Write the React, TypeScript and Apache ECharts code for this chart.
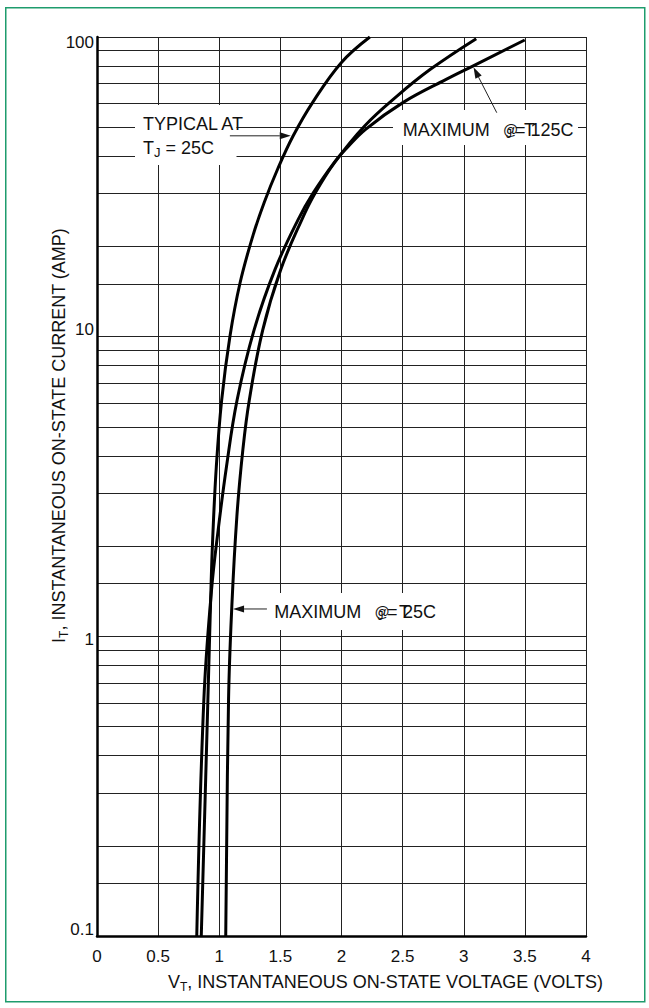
import React, { useEffect, useRef } from "react";
import * as echarts from "echarts";

// ---------- data ----------
const xTickLabels = ["0", "0.5", "1", "1.5", "2", "2.5", "3", "3.5", "4"];
const yTickLabels = ["0.1", "1", "10", "100"];
const yGridValues = [
  0.1, 0.15, 0.2, 0.3, 0.4, 0.5, 0.6, 0.7, 0.8, 0.9,
  1, 1.5, 2, 3, 4, 5, 6, 7, 8, 9,
  10, 15, 20, 30, 40, 50, 60, 70, 80, 90, 100,
];

// [V_T (volts), I_T (amps)]
const typical25 = [
  [0.853, 0.1], [0.907, 0.613], [0.932, 1.43], [0.946, 2.1], [0.976, 3.68],
  [1.02, 6.15], [1.087, 10], [1.17, 15.1], [1.275, 21.7], [1.367, 28],
  [1.477, 36.2], [1.605, 46.8], [1.763, 60.4], [1.998, 82.1], [2.232, 100],
];
const max25 = [
  [1.053, 0.1], [1.076, 0.613], [1.103, 1.26], [1.144, 2.51], [1.193, 4.19],
  [1.246, 6.15], [1.355, 10.5], [1.502, 16.7], [1.674, 24.5], [1.786, 30.2],
  [1.943, 38.1], [2.189, 50.5], [2.454, 63.5], [2.727, 78], [3.102, 98.7],
];
const max125 = [
  [0.816, 0.1], [0.874, 0.613], [0.937, 1.43], [0.988, 2.21], [1.059, 3.68],
  [1.146, 6.15], [1.284, 10.5], [1.455, 16.7], [1.643, 24.5], [1.769, 30.2],
  [1.94, 38.1], [2.034, 42.2], [2.197, 49.2], [2.502, 60.4], [2.856, 72.2],
  [3.074, 80], [3.499, 97.7],
];

// annotation arrows in data space: from -> tip
const arrowTypical = { from: [1.087, 46.8], to: [1.585, 46.8] };
const arrowMax25 = { from: [1.39, 1.234], to: [1.113, 1.234] };
const arrowMax125 = { from: [3.27, 55.9], to: [3.08, 79.2] };

const FONT = "'Liberation Sans', Arial, Helvetica, sans-serif";
const INK = "#111";

export default function App() {
  const ref = useRef<HTMLDivElement>(null);

  useEffect(() => {
    const chart = echarts.init(ref.current!, null, { renderer: "svg" });

    const curve = (name: string, data: number[][]) => ({
      name,
      type: "line",
      data,
      symbol: "none",
      showSymbol: false,
      smooth: 0.4,
      z: 20,
      silent: true,
      lineStyle: { color: "#000", width: 3 },
    });

    const yKey: Record<string, string> = { "100": "d", "10": "u", "1": "m", "0.1": "u2" };
    const lab = { fontSize: 17, fontFamily: FONT, color: INK };

    chart.setOption({
      animation: false,
      backgroundColor: "#fff",
      grid: { left: 97, right: 63, top: 37, bottom: 72 },
      xAxis: {
        type: "value",
        min: 0,
        max: 4,
        interval: 0.5,
        axisLine: { show: true, onZero: false, lineStyle: { color: "#000", width: 2.5 } },
        axisTick: { show: false },
        axisLabel: {
          ...lab,
          margin: 12,
          formatter: (v: number) => xTickLabels[Math.round(v * 2)] ?? String(v),
        },
        splitLine: { show: true, lineStyle: { color: "#222", width: 1 } },
      },
      yAxis: {
        type: "log",
        logBase: 10,
        min: 0.1,
        max: 100,
        axisLine: { show: true, lineStyle: { color: "#000", width: 2.5 } },
        axisTick: { show: false },
        minorTick: { show: false },
        splitLine: { show: false },
        minorSplitLine: { show: false },
        axisLabel: {
          ...lab,
          margin: 3,
          formatter: (v: number) => {
            const idx = Math.round(Math.log10(v)) + 1;
            const s = yTickLabels[idx] ?? String(v);
            return `{${yKey[s] || "m"}|${s}}`;
          },
          rich: {
            d: { ...lab, padding: [10, 0, 0, 0] },
            u: { ...lab, padding: [0, 0, 14, 0] },
            m: { ...lab, padding: [6, 0, 0, 0] },
            u2: { ...lab, padding: [0, 0, 13, 0] },
          },
        },
      },
      series: [
        {
          type: "line",
          data: [],
          z: 0,
          silent: true,
          markLine: {
            z: 0,
            silent: true,
            symbol: ["none", "none"],
            label: { show: false },
            emphasis: { disabled: true },
            lineStyle: { color: "#222", width: 1, type: "solid" },
            data: yGridValues.map((v) => ({ yAxis: v })),
          },
        },
        curve("Typical @ TJ = 25C", typical25),
        curve("Maximum @ TJ = 25C", max25),
        curve("Maximum @ TJ = 125C", max125),
      ],
    });

    const toPx = (p: number[]) => chart.convertToPixel({ gridIndex: 0 }, p) as number[];

    const arrow = (a0: { from: number[]; to: number[] }) => {
      const a = toPx(a0.from);
      const b = toPx(a0.to);
      const dx = b[0] - a[0];
      const dy = b[1] - a[1];
      const len = Math.hypot(dx, dy) || 1;
      const ux = dx / len;
      const uy = dy / len;
      const L = 11;
      const W = 3.5;
      const base = [b[0] - ux * L, b[1] - uy * L];
      const left = [base[0] - uy * W, base[1] + ux * W];
      const right = [base[0] + uy * W, base[1] - ux * W];
      return [
        {
          type: "line",
          z: 30,
          silent: true,
          shape: { x1: a[0], y1: a[1], x2: base[0], y2: base[1] },
          style: { stroke: "#222", lineWidth: 1 },
        },
        {
          type: "polygon",
          z: 30,
          silent: true,
          shape: { points: [b, left, right] },
          style: { fill: "#111" },
        },
      ];
    };

    const box = (x: number, y: number, w: number, h: number) => ({
      type: "rect",
      z: 10,
      silent: true,
      shape: { x, y, width: w, height: h },
      style: { fill: "#fff" },
    });

    const txt = (text: string, x: number, y: number, size = 18) => ({
      type: "text",
      z: 30,
      silent: true,
      x,
      y,
      style: { text, fontSize: size, fontFamily: FONT, fill: INK, align: "left", verticalAlign: "middle" },
    });

    const subRich = {
      a: { fontSize: 18, fontFamily: FONT, fill: INK, lineHeight: 22 },
      s: { fontSize: 12, fontFamily: FONT, fill: INK, lineHeight: 12, verticalAlign: "bottom" },
    };

    chart.setOption({
      graphic: {
        elements: [
          // white label backgrounds
          box(135, 105, 101.5, 60),
          box(393, 110, 185, 35),
          box(268, 593, 172, 37),
          // TYPICAL AT TJ = 25C
          txt("TYPICAL AT", 143, 124),
          {
            type: "text",
            z: 30,
            silent: true,
            x: 143,
            y: 148,
            style: {
              text: "{a|T}{s|J}{a| = 25C}",
              rich: { ...subRich, s: { ...subRich.s, fontSize: 13 } },
              align: "left",
              verticalAlign: "middle",
            },
          },
          // MAXIMUM @ TJ = 125C (overprinted as in the original)
          txt("MAXIMUM", 402.7, 129.5),
          txt("@", 503, 129.5, 15),
          txt("J", 506, 134, 12),
          txt("=", 515, 129.5),
          txt("T", 524, 129.5),
          txt("125C", 530.5, 129.5),
          // MAXIMUM @ TJ = 25C
          txt("MAXIMUM", 274.3, 611.5),
          txt("@", 374.5, 611.5, 15),
          txt("J", 377.5, 616, 12),
          txt("=", 387, 611.5),
          txt("T", 399, 611.5),
          txt("25C", 403, 611.5),
          // arrows
          ...arrow(arrowTypical),
          ...arrow(arrowMax25),
          ...arrow(arrowMax125),
          // axis titles
          {
            type: "text",
            z: 30,
            silent: true,
            x: 385.5,
            y: 982,
            style: {
              text: "{a|V}{s|T}{a|, INSTANTANEOUS ON-STATE VOLTAGE (VOLTS)}",
              rich: subRich,
              align: "center",
              verticalAlign: "middle",
            },
          },
          {
            type: "text",
            z: 30,
            silent: true,
            x: 58.5,
            y: 435.5,
            rotation: Math.PI / 2,
            style: {
              text: "{a|I}{s|T}{a|, INSTANTANEOUS ON-STATE CURRENT (AMP)}",
              rich: subRich,
              align: "center",
              verticalAlign: "middle",
            },
          },
          // green frame
          {
            type: "rect",
            z: 30,
            silent: true,
            shape: { x: 5.75, y: 7.75, width: 639, height: 994 },
            style: { fill: "none", stroke: "#1e9c6d", lineWidth: 1.5 },
          },
        ],
      },
    });

    return () => {
      chart.dispose();
    };
  }, []);

  return (
    <div
      ref={ref}
      style={{ position: "absolute", left: 0, top: 0, width: 649, height: 1008, background: "#fff" }}
    />
  );
}
